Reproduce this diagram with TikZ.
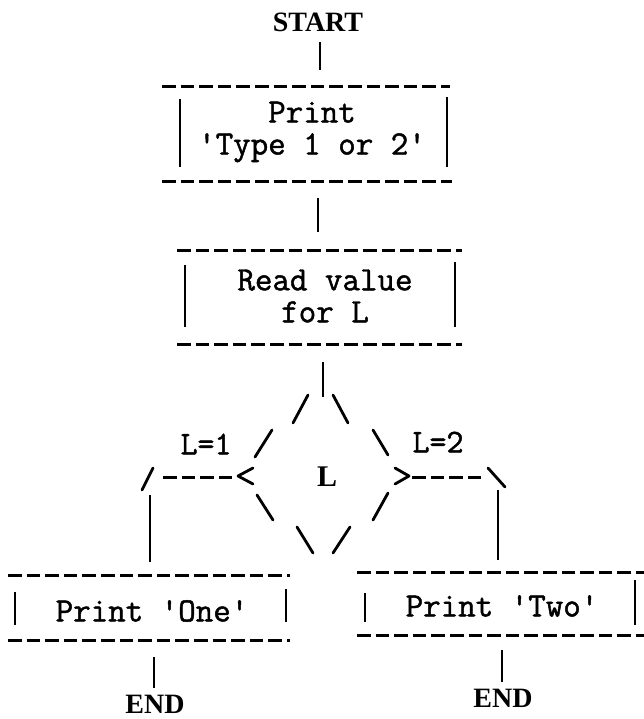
\documentclass[tikz,border=0pt]{standalone}
\usepackage{fontspec}
\setmainfont{Liberation Serif}
\newfontfamily\tw[FakeBold=1.4]{Latin Modern Mono}
\begin{document}
\begin{tikzpicture}[x=1pt,y=-1pt,
  tdash/.style={line width=3pt,dash pattern=on 13.5pt off 5.1pt},
  bar/.style={line width=2.4pt},
  conn/.style={line width=2.4pt},
  diag/.style={line width=2.8pt,line cap=round,line join=round},
  twtext/.style={font=\tw\fontsize{34}{32}\selectfont,inner sep=0pt,align=center},
  serifcap/.style={font=\fontsize{28}{28}\selectfont\bfseries,inner sep=0pt},
  lbl/.style={font=\tw\fontsize{33}{30}\selectfont,inner sep=0pt}]
\useasboundingbox[fill=white] (0,0) rectangle (644,719);

% START
\node[serifcap] (start) at (318,22) {START};
\coordinate (s1) at (320,42);
\coordinate (s2) at (320,70);
\draw[conn] (s1) -- (s2);

% box 1
\draw[tdash] (162,87) -- (450,87);
\draw[tdash] (162,182) -- (452,182);
\draw[bar] (180,99) -- (180,167);
\draw[bar] (447,97) -- (447,167);
\node[twtext] (p1) at (312,132) {Print\\'Type 1 or 2'};

\coordinate (c1) at (318,198);
\coordinate (c2) at (318,232);
\draw[conn] (c1) -- (c2);

% box 2
\draw[tdash] (177,250) -- (462,250);
\draw[tdash] (177,344) -- (462,344);
\draw[bar] (185,265) -- (185,327);
\draw[bar] (455,262) -- (455,327);
\node[twtext] (p2) at (325,296) {Read value\\for L};

\coordinate (d1) at (323,362);
\coordinate (d2) at (323,397);
\draw[conn] (d1) -- (d2);

% decision
\node[font=\fontsize{30}{30}\selectfont\bfseries,inner sep=0pt] (dec) at (327,477) {L};
\draw[diag] (293,423) -- (308,395);
\draw[diag] (333,395) -- (348,423);
\draw[diag] (255,457) -- (272,430);
\draw[diag] (373,430) -- (388,455);
\draw[diag] (142,490) -- (153,468);
\draw[tdash] (163,477) -- (233,477);
\draw[diag] (253,468) -- (238,476) -- (253,484);
\draw[diag] (395,468) -- (409,476) -- (395,484);
\draw[tdash] (412,477) -- (482,477);
\draw[diag] (488,468) -- (505,487);
\draw[diag] (257,495) -- (273,520);
\draw[diag] (373,520) -- (388,493);
\draw[diag] (297,527) -- (313,553);
\draw[diag] (350,527) -- (333,553);
\node[lbl] (l1) at (206,444) {L=1};
\node[lbl] (l2) at (438,442) {L=2};

\coordinate (e1) at (150,495);
\coordinate (e2) at (150,562);
\draw[conn] (e1) -- (e2);
\coordinate (f1) at (498,490);
\coordinate (f2) at (498,560);
\draw[conn] (f1) -- (f2);

% box 3
\draw[tdash] (8,575) -- (290,575);
\draw[tdash] (8,640) -- (290,640);
\draw[bar] (15,592) -- (15,625);
\draw[bar] (286,589) -- (286,622);
\node[twtext] (one) at (152,611) {Print 'One'};
\coordinate (g1) at (154,657);
\coordinate (g2) at (154,688);
\draw[conn] (g1) -- (g2);
\node[serifcap] (end1) at (155,704) {END};

% box 4
\draw[tdash] (357,572) -- (644,572);
\draw[tdash] (357,635) -- (644,635);
\draw[bar] (365,593) -- (365,622);
\draw[bar] (635,580) -- (635,625);
\node[twtext] (two) at (502,606) {Print 'Two'};
\coordinate (h1) at (502,650);
\coordinate (h2) at (502,682);
\draw[conn] (h1) -- (h2);
\node[serifcap] (end2) at (503,698) {END};
\end{tikzpicture}
\end{document}
